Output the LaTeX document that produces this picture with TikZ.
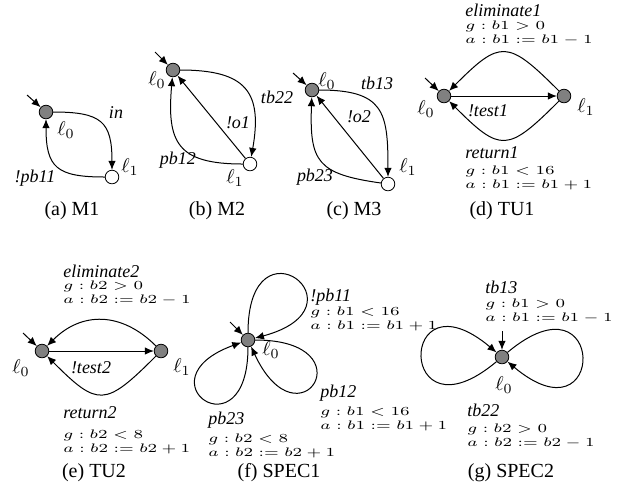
\documentclass[tikz,border=0pt]{standalone}
\usepackage{fontspec}
\setmainfont{Liberation Serif}
\usepackage{amsmath}
\usepackage{graphicx}
\usetikzlibrary{arrows.meta}

% guard / action text, set small and a little wide
\newcommand{\gtext}[1]{\scalebox{1.2}[0.88]{$#1$}}

\begin{document}
\begin{tikzpicture}[x=0.5pt, y=-0.5pt,
    locg/.style={circle, draw, fill=gray, inner sep=0pt, minimum size=6.8pt},
    locw/.style={locg, fill=white},
    arrow/.style={-{Latex[length=4.5pt, width=3.8pt]}, line width=0.5pt},
    lbl/.style={font=\small\itshape, inner sep=0pt},
    loclbl/.style={font=\normalsize, inner sep=0pt},
    grd/.style={font=\scriptsize, inner sep=0pt, anchor=west, text height=4pt, text depth=1pt},
    subcap/.style={font=\normalsize, inner sep=0pt}
]
\useasboundingbox (0,0) rectangle (623,495);

% === (a) M1 ===
\node[locg] (m1l0) at (46,112) {};
\node[locw] (m1l1) at (112,177) {};
\coordinate (m1in) at (27,95);
\draw[arrow] (m1in) -- (m1l0);
\draw[arrow] (m1l0) to[out=0, in=90, looseness=1.5] (m1l1);
\draw[arrow] (m1l1) to[out=180, in=270, looseness=1.5] (m1l0);
\node[loclbl] (m1t0) at (66,130) {$\ell_0$};
\node[loclbl] (m1t1) at (130,167) {$\ell_1$};
\node[lbl] (m1e1) at (116,113) {in};
\node[lbl] (m1e2) at (35,178) {!pb11};
\node[subcap] (m1cap) at (72,211) {(a) M1};

% === (b) M2 ===
\node[locg] (m2l0) at (173,70) {};
\node[locw] (m2l1) at (250,164) {};
\coordinate (m2in) at (155,52);
\draw[arrow] (m2in) -- (m2l0);
\draw[arrow] (m2l0) to[out=0, in=80, looseness=1.5] (m2l1);
\draw[arrow] (m2l1) -- (m2l0);
\draw[arrow] (m2l1) to[out=180, in=265, looseness=1.5] (m2l0);
\node[loclbl] (m2t0) at (157,80) {$\ell_0$};
\node[loclbl] (m2t1) at (235,178) {$\ell_1$};
\node[lbl] (m2e1) at (277,97) {tb22};
\node[lbl] (m2e2) at (238,123) {!o1};
\node[lbl] (m2e3) at (178,160) {pb12};
\node[subcap] (m2cap) at (217,211) {(b) M2};

% === (c) M3 ===
\node[locg] (m3l0) at (312,90) {};
\node[locw] (m3l1) at (388,184) {};
\coordinate (m3in) at (293,73);
\draw[arrow] (m3in) -- (m3l0);
\draw[arrow] (m3l0) to[out=0, in=90, looseness=1.5] (m3l1);
\draw[arrow] (m3l1) -- (m3l0);
\draw[arrow] (m3l1) to[out=172, in=268, looseness=1.5] (m3l0);
\node[loclbl] (m3t0) at (327,81) {$\ell_0$};
\node[loclbl] (m3t1) at (408,167) {$\ell_1$};
\node[lbl] (m3e1) at (377,83) {tb13};
\node[lbl] (m3e2) at (359,117) {!o2};
\node[lbl] (m3e3) at (315,177) {pb23};
\node[subcap] (m3cap) at (354,211) {(c) M3};

% === (d) TU1 ===
\node[locg] (t1l0) at (444,96) {};
\node[locg] (t1l1) at (564,96) {};
\coordinate (t1in) at (425,78);
\draw[arrow] (t1in) -- (t1l0);
\draw[arrow] (t1l0) -- (t1l1);
\draw[arrow] (t1l1) to[out=135, in=45, looseness=1.7] (t1l0);
\draw[arrow] (t1l1) to[out=225, in=315, looseness=1.7] (t1l0);
\node[loclbl] (t1t0) at (426,109) {$\ell_0$};
\node[loclbl] (t1t1) at (586,107) {$\ell_1$};
\node[lbl, anchor=west] (t1e) at (465,10) {eliminate1};
\node[grd] (t1eg) at (465,26) {\gtext{g : b1 > 0}};
\node[grd] (t1ea) at (465,40) {\gtext{a : b1 := b1 - 1}};
\node[lbl] (t1s) at (488,111) {!test1};
\node[lbl, anchor=west] (t1r) at (465,153) {return1};
\node[grd] (t1rg) at (465,171) {\gtext{g : b1 < 16}};
\node[grd] (t1ra) at (465,185) {\gtext{a : b1 := b1 + 1}};
\node[subcap] (t1cap) at (502,211) {(d) TU1};

% === (e) TU2 ===
\node[locg] (t2l0) at (42,351) {};
\node[locg] (t2l1) at (161,351) {};
\coordinate (t2in) at (23,333);
\draw[arrow] (t2in) -- (t2l0);
\draw[arrow] (t2l0) -- (t2l1);
\draw[arrow] (t2l1) to[out=135, in=45, looseness=1.15] (t2l0);
\draw[arrow] (t2l1) to[out=225, in=315, looseness=1.7] (t2l0);
\node[loclbl] (t2t0) at (21,368) {$\ell_0$};
\node[loclbl] (t2t1) at (182,367) {$\ell_1$};
\node[lbl, anchor=west] (t2e) at (63,271) {eliminate2};
\node[grd] (t2eg) at (63,286) {\gtext{g : b2 > 0}};
\node[grd] (t2ea) at (63,300) {\gtext{a : b2 := b2 - 1}};
\node[lbl] (t2s) at (91,368) {!test2};
\node[lbl, anchor=west] (t2r) at (63,413) {return2};
\node[grd] (t2rg) at (63,435) {\gtext{g : b2 < 8}};
\node[grd] (t2ra) at (63,449) {\gtext{a : b2 := b2 + 1}};
\node[subcap] (t2cap) at (94,473) {(e) TU2};

% === (f) SPEC1 ===
\node[locg] (s1l0) at (248,340) {};
\coordinate (s1in) at (230,322);
\draw[arrow] (s1in) -- (s1l0);
\draw[arrow] (s1l0) to[out=90, in=15, distance=60pt] (s1l0);
\draw[arrow] (s1l0) to[out=0, in=-65, distance=57pt] (s1l0);
\draw[arrow] (s1l0) to[out=270, in=200, distance=55pt] (s1l0);
\node[loclbl] (s1t0) at (271,350) {$\ell_0$};
\node[lbl, anchor=west] (s1a) at (310,297) {!pb11};
\node[grd] (s1ag) at (310,312) {\gtext{g : b1 < 16}};
\node[grd] (s1aa) at (310,326) {\gtext{a : b1 := b1 + 1}};
\node[lbl, anchor=west] (s1b) at (320,393) {pb12};
\node[grd] (s1bg) at (320,412) {\gtext{g : b1 < 16}};
\node[grd] (s1ba) at (320,426) {\gtext{a : b1 := b1 + 1}};
\node[lbl, anchor=west] (s1c) at (208,420) {pb23};
\node[grd] (s1cg) at (208,439) {\gtext{g : b2 < 8}};
\node[grd] (s1ca) at (208,453) {\gtext{a : b2 := b2 + 1}};
\node[subcap] (s1cap) at (279,473) {(f) SPEC1};

% === (g) SPEC2 ===
\node[locg] (s2l0) at (502,357) {};
\coordinate (s2in) at (502,331);
\draw[arrow] (s2in) -- (s2l0);
\draw[arrow] (s2l0) to[out=220, in=140, distance=65pt] (s2l0);
\draw[arrow] (s2l0) to[out=40, in=-40, distance=65pt] (s2l0);
\node[loclbl] (s2t0) at (504,385) {$\ell_0$};
\node[lbl, anchor=west] (s2a) at (485,287) {tb13};
\node[grd] (s2ag) at (485,304) {\gtext{g : b1 > 0}};
\node[grd] (s2aa) at (485,318) {\gtext{a : b1 := b1 - 1}};
\node[lbl, anchor=west] (s2b) at (467,410) {tb22};
\node[grd] (s2bg) at (467,429) {\gtext{g : b2 > 0}};
\node[grd] (s2ba) at (467,443) {\gtext{a : b2 := b2 - 1}};
\node[subcap] (s2cap) at (511,473) {(g) SPEC2};

\end{tikzpicture}
\end{document}
